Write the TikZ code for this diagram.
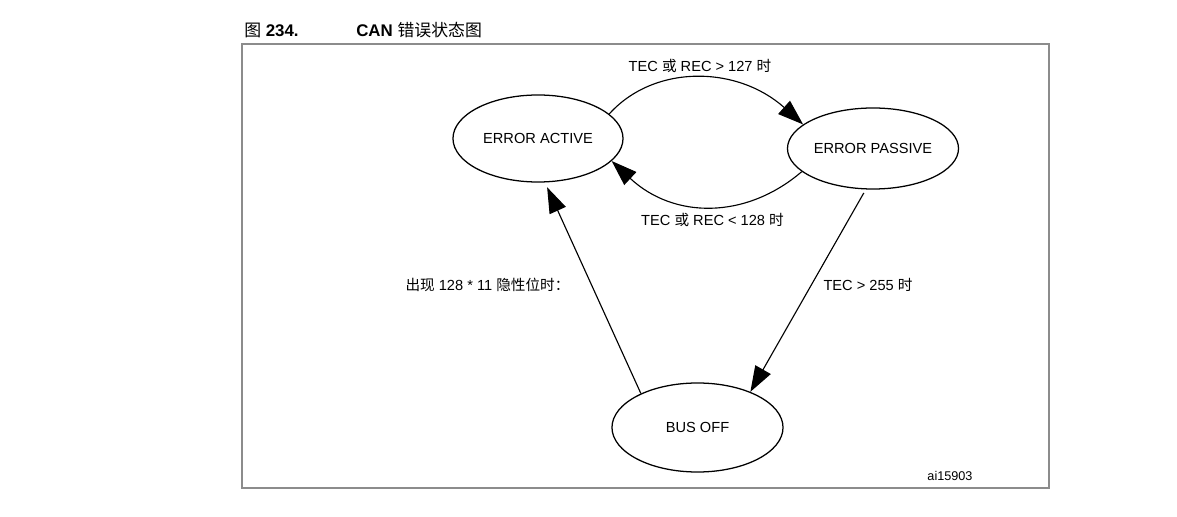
\documentclass[tikz,border=0pt]{standalone}
\usepackage{fontspec}
\setmainfont{Liberation Sans}
\newfontfamily\cjk{Noto Sans CJK SC}
\usepackage{xcolor}
\definecolor{lineDark}{HTML}{000000}
\definecolor{frameGray}{HTML}{8C8C8C}
\usepackage{tikz}
\usetikzlibrary{shapes,arrows.meta}
\tikzset{
  stateBox/.style={
    ellipse,
    draw=lineDark,
    line width=0.9pt,
    inner sep=0pt,
    minimum width=4.25cm,
    minimum height=2.175cm,
    font=\fontsize{10.4}{12}\selectfont
 },
  labelText/.style={
    inner sep=0pt,
    font=\fontsize{10.4}{12}\selectfont
 },
  arrowLine/.style={
    -{Triangle[length=0.64cm,width=0.44cm]},
    line width=0.8pt,
    color=lineDark
 }
}

\begin{document}
\begin{tikzpicture}[x=0.025cm,y=-0.025cm]
            \useasboundingbox (0,0) rectangle (1177,517);

            % caption and frame
            \node[anchor=west, inner sep=0pt, font=\fontsize{12}{14}\selectfont] (figNum) at (244,30) {{\cjk 图} \textbf{234.}};
            \node[anchor=west, inner sep=0pt, font=\fontsize{12}{14}\selectfont] (figTitle) at (356,30) {\textbf{CAN} {\cjk 错误状态图}};
            \draw[frameGray, line width=0.8pt] (242,44) rectangle (1049,488);

            \node[stateBox] (active) at (538,138.5) {ERROR ACTIVE};
            \node[stateBox, minimum width=4.275cm, minimum height=2.025cm] (passive) at (873,148.5) {ERROR PASSIVE};
            \node[stateBox, minimum width=4.275cm, minimum height=2.225cm] (busoff) at (697.5,427.5) {BUS OFF};

            \draw[arrowLine] (active.19) .. controls +(45,-50) and +(-66,-59) .. (passive.161);
            \draw[arrowLine] (passive.-162) .. controls +(-56,48) and +(62,58) .. (active.-17);
            \draw[arrowLine, shorten <=1mm] (passive.-100) -- (busoff.34);
            \draw[arrowLine, shorten >=1.3mm] (busoff.149) -- (active.-81);

            % transition labels
            \node[labelText] (lblUp) at (700,66) {TEC {\cjk 或} REC > 127 {\cjk 时}};
            \node[labelText] (lblDown) at (712.5,220) {TEC {\cjk 或} REC < 128 {\cjk 时}};
            \node[labelText] (lblOff) at (868,284.5) {TEC > 255 {\cjk 时}};
            \node[labelText] (lblBack) at (487.5,285) {{\cjk 出现} 128 * 11 {\cjk 隐性位时：}};
            \node[inner sep=0pt, font=\fontsize{9}{11}\selectfont] (figId) at (950,476) {ai15903};
        \end{tikzpicture}
\end{document}
